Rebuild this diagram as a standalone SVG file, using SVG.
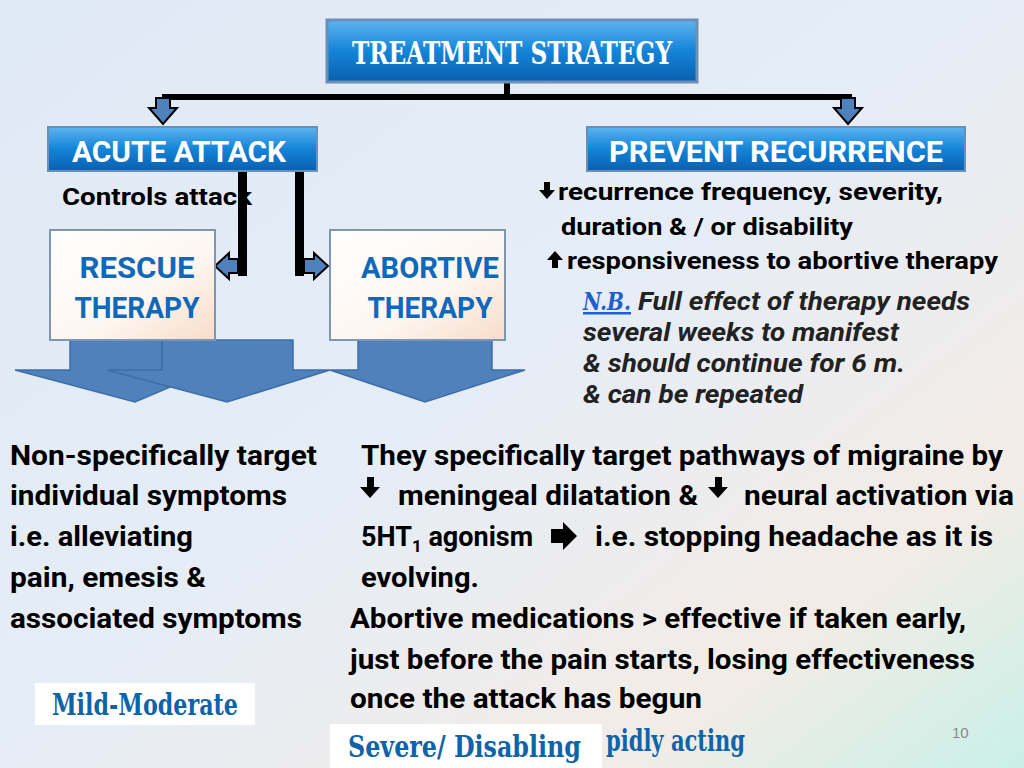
<svg xmlns="http://www.w3.org/2000/svg" width="1024" height="768" viewBox="0 0 1024 768">
<defs>
<linearGradient id="bg" x1="0" y1="0" x2="1" y2="1"><stop offset="0" stop-color="#dfe9f5"/><stop offset="0.5" stop-color="#e6edf6"/><stop offset="0.8" stop-color="#f3ece6"/><stop offset="1" stop-color="#c9f0e8"/></linearGradient>
<linearGradient id="btn" x1="0" y1="0" x2="0" y2="1"><stop offset="0" stop-color="#5db3f0"/><stop offset="0.5" stop-color="#1484d8"/><stop offset="1" stop-color="#0a5fb0"/></linearGradient>
<linearGradient id="card" x1="0" y1="0" x2="1" y2="1"><stop offset="0" stop-color="#ffffff"/><stop offset="0.6" stop-color="#fdf6f0"/><stop offset="1" stop-color="#f8dcc8"/></linearGradient>
<style>
.b{font-family:Roboto,"Liberation Sans",sans-serif;font-weight:bold;fill:#000}
.w{font-family:Roboto,"Liberation Sans",sans-serif;font-weight:bold;fill:#fff;font-size:30px}
.bl{font-family:Roboto,"Liberation Sans",sans-serif;font-weight:bold;fill:#1068b8;font-size:30px}
.it{font-family:Roboto,"Liberation Sans",sans-serif;font-weight:bold;font-style:italic;fill:#222;font-size:25px}
.cs{font-family:"DejaVu Serif","Liberation Serif",serif;font-weight:bold;fill:#0f63a8}
.ba{fill:#4f81bd;stroke:#000;stroke-width:2}
.big{fill:#4f81bd;stroke:#3d6ea8;stroke-width:1.5}
</style>
</defs>
<rect width="1024" height="768" fill="url(#bg)"/>
<g id="connectors">
<rect x="504" y="82" width="6" height="16" fill="#000"/>
<rect x="162" y="94" width="690" height="6" fill="#000"/>
<polygon class="ba" points="156,98 170,98 170,108 177,108 163,124 149,108 156,108"/>
<polygon class="ba" points="841,98 855,98 855,108 862,108 848,124 834,108 841,108"/>
<rect x="238" y="170" width="9" height="106" fill="#000"/>
<rect x="295" y="170" width="9" height="106" fill="#000"/>
<polygon class="ba" points="238,259 229,259 229,253 215,266 229,279 229,273 238,273"/>
<polygon class="ba" points="304,259 314,259 314,253 328,266 314,279 314,273 304,273"/>
</g>
<g id="title"><rect x="327" y="20" width="370" height="62" fill="url(#btn)" stroke="#6b8fb5" stroke-width="3"/>
<text x="512" y="64" text-anchor="middle" font-family="'DejaVu Serif',serif" font-weight="bold" font-size="32" fill="#fff" textLength="320" lengthAdjust="spacingAndGlyphs">TREATMENT STRATEGY</text></g>
<g id="acute"><rect x="48" y="127" width="269" height="44" fill="url(#btn)" stroke="#6b8fb5" stroke-width="2"/>
<text class="w" x="72" y="162" textLength="214" lengthAdjust="spacingAndGlyphs">ACUTE  ATTACK</text></g>
<text class="b" x="62" y="205" font-size="24" textLength="190" lengthAdjust="spacingAndGlyphs">Controls attack</text>
<g id="prevent"><rect x="587" y="127" width="378" height="44" fill="url(#btn)" stroke="#6b8fb5" stroke-width="2"/>
<text class="w" x="776" y="162" text-anchor="middle" textLength="334" lengthAdjust="spacingAndGlyphs">PREVENT RECURRENCE</text></g>
<g id="bigarrows">
<polygon class="big" points="70,340 162,340 162,370 210,370 135,402 15,370 70,370"/>
<polygon class="big" points="162,340 293,340 293,370 330,370 227,402 107,370 162,370"/>
<polygon class="big" points="358,340 492,340 492,370 525,370 425,402 330,370 358,370"/>
</g>
<g id="rescue"><rect x="50" y="230" width="165" height="110" fill="url(#card)" stroke="#7f96b2" stroke-width="2"/>
<text class="bl" x="137" y="278" text-anchor="middle" textLength="115" lengthAdjust="spacingAndGlyphs">RESCUE</text>
<text class="bl" x="137" y="318" text-anchor="middle" textLength="125" lengthAdjust="spacingAndGlyphs">THERAPY</text></g>
<g id="abortive"><rect x="330" y="230" width="175" height="110" fill="url(#card)" stroke="#7f96b2" stroke-width="2"/>
<text class="bl" x="430" y="278" text-anchor="middle" textLength="138" lengthAdjust="spacingAndGlyphs">ABORTIVE</text>
<text class="bl" x="430" y="318" text-anchor="middle" textLength="125" lengthAdjust="spacingAndGlyphs">THERAPY</text></g>
<g id="prevent-text">
<polygon points="544,182 550,182 550,190 555,190 547,199 539,190 544,190" fill="#000"/>
<text class="b" x="558" y="200" font-size="24" textLength="385" lengthAdjust="spacingAndGlyphs">recurrence frequency, severity,</text>
<text class="b" x="561" y="235" font-size="24" textLength="292" lengthAdjust="spacingAndGlyphs">duration &amp; / or disability</text>
<polygon points="552,268 558,268 558,260 563,260 555,251 547,260 552,260" fill="#000"/>
<text class="b" x="567" y="269" font-size="24" textLength="431" lengthAdjust="spacingAndGlyphs">responsiveness to abortive therapy</text>
<text x="583" y="310" font-family="'DejaVu Serif',serif" font-style="italic" font-weight="bold" font-size="25" fill="#1f5fd0" text-decoration="underline" textLength="48" lengthAdjust="spacingAndGlyphs">N.B.</text>
<text class="it" x="638" y="310" textLength="332" lengthAdjust="spacingAndGlyphs">Full effect of therapy needs</text>
<text class="it" x="583" y="341" textLength="316" lengthAdjust="spacingAndGlyphs">several weeks to manifest</text>
<text class="it" x="583" y="372" textLength="322" lengthAdjust="spacingAndGlyphs">&amp; should continue for 6 m.</text>
<text class="it" x="583" y="403" textLength="220" lengthAdjust="spacingAndGlyphs">&amp; can be repeated</text>
</g>
<g id="left-text" class="b" font-size="27">
<text x="10" y="465" textLength="307" lengthAdjust="spacingAndGlyphs">Non-specifically  target</text>
<text x="10" y="505" textLength="277" lengthAdjust="spacingAndGlyphs">individual symptoms</text>
<text x="10" y="546" textLength="183" lengthAdjust="spacingAndGlyphs">i.e. alleviating</text>
<text x="10" y="587" textLength="196" lengthAdjust="spacingAndGlyphs">pain, emesis &amp;</text>
<text x="10" y="628" textLength="292" lengthAdjust="spacingAndGlyphs">associated symptoms</text>
</g>
<g id="right-text" class="b" font-size="27">
<text x="361" y="465" textLength="642" lengthAdjust="spacingAndGlyphs">They specifically target pathways of migraine by</text>
<polygon points="367,477 374,477 374,487 380,487 370,498 360,487 367,487" fill="#000"/>
<text x="398" y="505" textLength="300" lengthAdjust="spacingAndGlyphs">meningeal dilatation &amp;</text>
<polygon points="715,477 722,477 722,487 728,487 718,498 708,487 715,487" fill="#000"/>
<text x="744" y="505" textLength="270" lengthAdjust="spacingAndGlyphs">neural activation via</text>
<text x="361" y="546">5HT<tspan font-size="17" dy="6">1</tspan><tspan dy="-6"> agonism</tspan></text>
<polygon points="551,529 563,529 563,522 577,536 563,550 563,543 551,543" fill="#000"/>
<text x="595" y="546" textLength="398" lengthAdjust="spacingAndGlyphs">i.e. stopping headache as it is</text>
<text x="361" y="587" textLength="118" lengthAdjust="spacingAndGlyphs">evolving.</text>
<text x="350" y="628" textLength="616" lengthAdjust="spacingAndGlyphs">Abortive medications &gt; effective if taken early,</text>
<text x="350" y="669" textLength="625" lengthAdjust="spacingAndGlyphs">just before the pain starts, losing effectiveness</text>
<text x="350" y="708" textLength="352" lengthAdjust="spacingAndGlyphs">once the attack has begun</text>
</g>
<text class="cs" x="606" y="751" font-size="30" textLength="139" lengthAdjust="spacingAndGlyphs">pidly acting</text>
<g id="severe"><rect x="330" y="724" width="272" height="44" fill="#fff"/>
<text class="cs" x="348" y="757" font-size="30" textLength="233" lengthAdjust="spacingAndGlyphs">Severe/ Disabling</text></g>
<g id="mild"><rect x="35" y="683" width="220" height="42" fill="#fff"/>
<text class="cs" x="52" y="715" font-size="30" textLength="186" lengthAdjust="spacingAndGlyphs">Mild-Moderate</text></g>
<text x="952" y="738" font-family="'Liberation Sans',sans-serif" font-size="15" fill="#888">10</text>
</svg>
